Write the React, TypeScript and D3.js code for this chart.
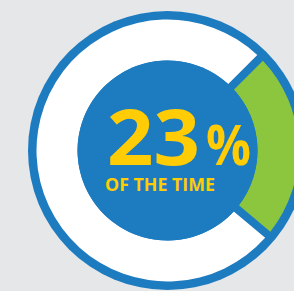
import React from "react";
import * as d3 from "d3";

const categories = ["Of the time", "Rest"];
const values = [23, 77];
const colors = ["#8cc63f", "#ffffff"];
const bigLabel = "23";
const pctLabel = "%";
const subLabel = "OF THE TIME";

const W = 294;
const H = 291;
const cx = 167.5;
const cy = 150.5;
const rDisc = 139.5;
const rOuter = 131;
const rInner = 90;
const startDeg = 45;

export default function App() {
  const pie = d3
    .pie<number>()
    .sort(null)
    .value((d) => d)
    .startAngle((startDeg * Math.PI) / 180)
    .endAngle((startDeg * Math.PI) / 180 + 2 * Math.PI)
    .padAngle(8 / 110);
  const arc = d3
    .arc<d3.PieArcDatum<number>>()
    .innerRadius(rInner)
    .outerRadius(rOuter)
    .padRadius(110);
  const arcs = pie(values);
  return (
    <svg
      width={W}
      height={H}
      style={{ position: "absolute", left: 0, top: 0, display: "block" }}
    >
      <rect width={W} height={H} fill="#e6e7e9" />
      <g transform={`translate(${cx},${cy})`}>
        <circle r={rDisc} fill="#1d7bc0" />
        {arcs.map((a, i) => (
          <path key={categories[i]} d={arc(a) || ""} fill={colors[i]} />
        ))}
        <circle r={rInner} fill="#1d7bc0" />
      </g>
      <g fill="#ffcc05" fontFamily="'Open Sans', sans-serif" fontWeight={700}>
        <text x={107} y={165} fontSize={77} textLength={93} lengthAdjust="spacingAndGlyphs">
          {bigLabel}
        </text>
        <text x={206} y={165} fontSize={55} textLength={45} lengthAdjust="spacingAndGlyphs">
          {pctLabel}
        </text>
        <text x={105} y={191} fontSize={17} textLength={110} lengthAdjust="spacingAndGlyphs">
          {subLabel}
        </text>
      </g>
    </svg>
  );
}
